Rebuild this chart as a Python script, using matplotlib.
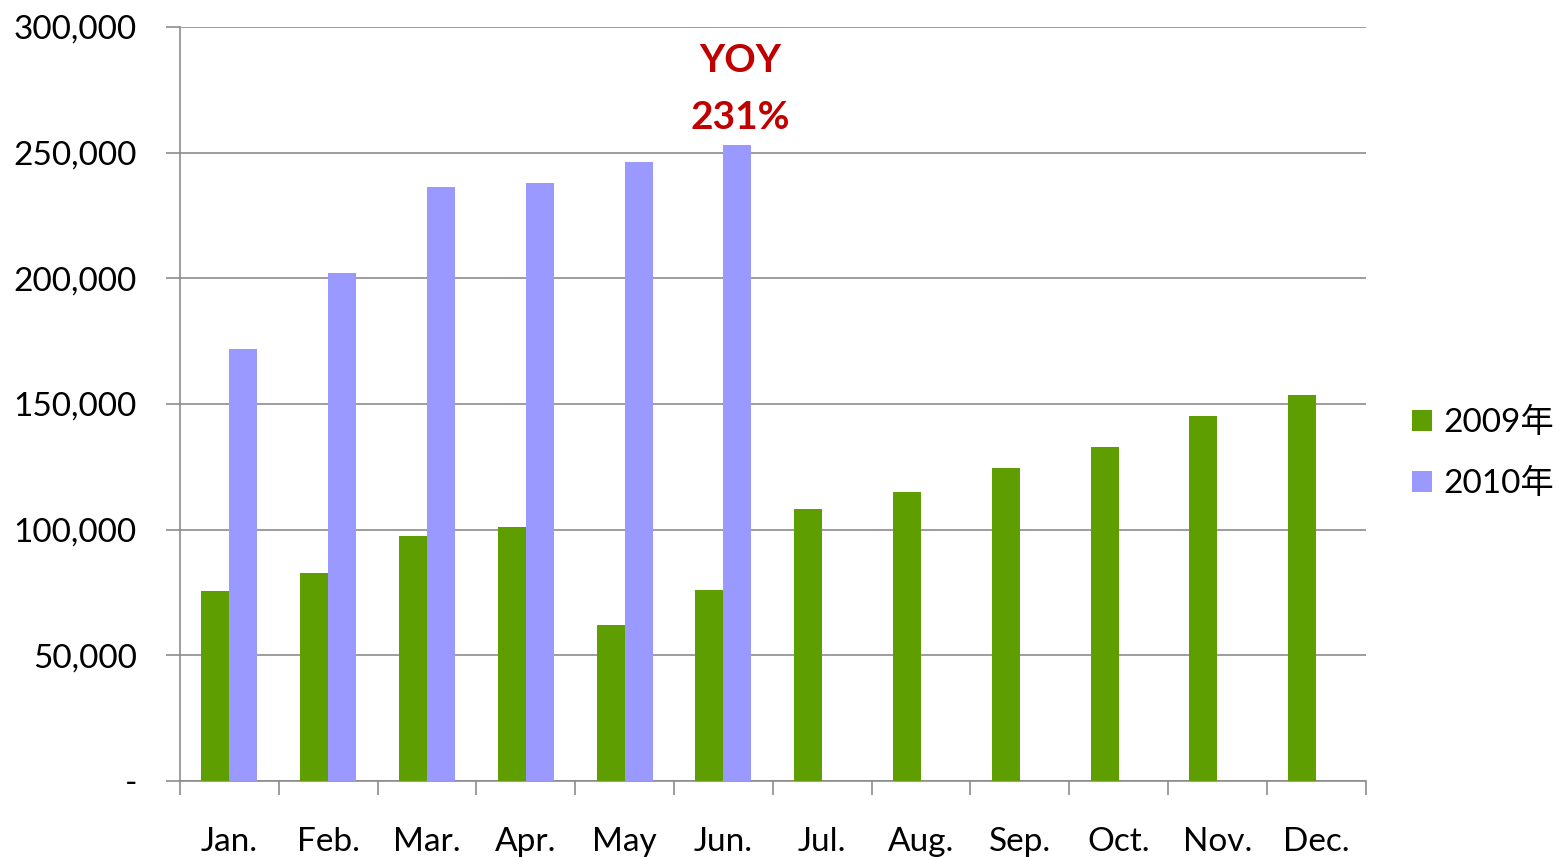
import numpy as np
import matplotlib.pyplot as plt
import matplotlib
from matplotlib.ticker import FuncFormatter, FixedLocator

matplotlib.rcParams['font.family'] = ['Lato', 'Noto Sans CJK SC', 'DejaVu Sans']

months = ['Jan.', 'Feb.', 'Mar.', 'Apr.', 'May', 'Jun.', 'Jul.', 'Aug.', 'Sep.', 'Oct.', 'Nov.', 'Dec.']
sales_2009 = [75600, 82800, 97500, 101000, 62100, 76000, 108200, 115000, 124500, 132900, 145200, 153600]
sales_2010 = [171900, 202100, 236300, 237900, 246300, 253000]

green = '#5F9E00'
purple = '#9999FF'

fig = plt.figure(figsize=(15.58, 8.57), dpi=100)
ax = fig.add_axes([0.1155, 0.0887, 0.761, 0.8798])

x = np.arange(len(months))
w = 0.283
ax.bar(x - w / 2, sales_2009, w, color=green, label='2009年', zorder=3)
ax.bar(x[:len(sales_2010)] + w / 2, sales_2010, w, color=purple, label='2010年', zorder=3)

ax.set_xlim(-0.5, 11.5)
ax.set_ylim(0, 300000)
ax.set_yticks(range(0, 300001, 50000))
ax.yaxis.set_major_formatter(FuncFormatter(lambda v, p: '-' if v == 0 else f'{v:,.0f}'))
ax.yaxis.grid(True, color='#8c8c8c', linewidth=1.2, zorder=0)

ax.set_xticks(x)
ax.set_xticklabels(months)
ax.xaxis.set_minor_locator(FixedLocator(np.arange(-0.5, 12, 1)))
ax.tick_params(axis='x', which='major', length=0, pad=33, labelsize=24)
ax.tick_params(axis='x', which='minor', length=10, width=1.2, color='#8c8c8c', direction='out')
ax.tick_params(axis='y', length=10, width=1.2, color='#8c8c8c', pad=21, labelsize=24)

for s in ['top', 'right']:
    ax.spines[s].set_visible(False)
for s in ['left', 'bottom']:
    ax.spines[s].set_color('#8c8c8c')
    ax.spines[s].set_linewidth(1.2)

ax.text(5.17, 257000, 'YOY\n231%', color='#C00000', fontsize=28, fontweight='bold',
        ha='center', va='bottom', linespacing=1.75)

ax.legend(loc='center left', bbox_to_anchor=(1.039, 0.435), frameon=False, fontsize=24,
          handlelength=0.6, handleheight=0.6, handletextpad=0.35, labelspacing=0.9,
          borderpad=0, borderaxespad=0)

fig.savefig('out.png', dpi=100)
